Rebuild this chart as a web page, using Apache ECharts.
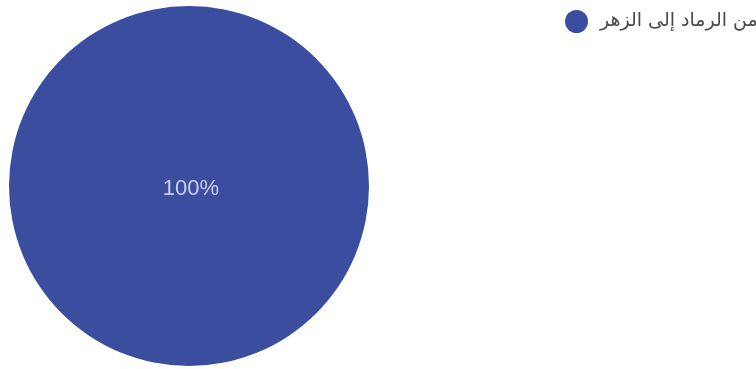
<!DOCTYPE html>
<html>
<head>
<meta charset="utf-8">
<style>
html,body{margin:0;padding:0;background:#fff;}
#chart{width:756px;height:369px;}
</style>
<script src="https://cdn.jsdelivr.net/npm/echarts@6/dist/echarts.min.js"></script>
</head>
<body>
<div id="chart"></div>
<script>
var categories = ['من الرماد إلى الزهر'];
var values = [100];

var chart = echarts.init(document.getElementById('chart'));
chart.setOption({
  animation: false,
  legend: {
    left: 560,
    top: 5,
    icon: 'circle',
    itemWidth: 23,
    itemHeight: 23,
    itemGap: 10,
    textStyle: { color: '#4a4a4a', fontSize: 19, fontFamily: 'DejaVu Sans, Arial, sans-serif', padding: [0, 0, 0, 7] },
    data: categories
  },
  series: [{
    type: 'pie',
    center: [189, 186],
    radius: [0, 180],
    startAngle: 90,
    itemStyle: { color: '#3a4d9f' },
    label: {
      position: 'center',
      formatter: '{d}%',
      color: '#c9cfe8',
      fontSize: 22,
      offset: [2, 3],
      fontFamily: 'Liberation Sans, Arial, sans-serif'
    },
    labelLine: { show: false },
    emphasis: { disabled: true },
    data: categories.map(function (c, i) { return { name: c, value: values[i] }; })
  }]
});
</script>
</body>
</html>
